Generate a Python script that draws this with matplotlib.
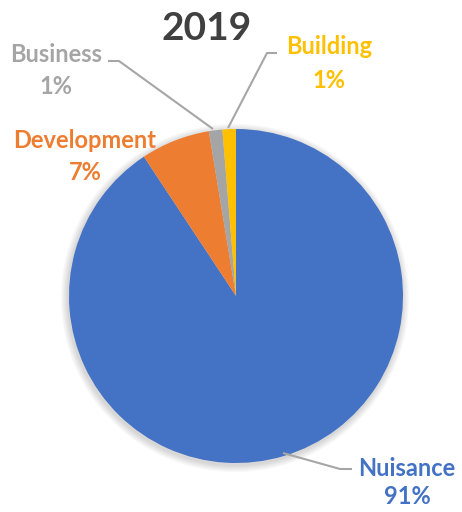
import matplotlib
matplotlib.use("Agg")
import matplotlib.pyplot as plt
from matplotlib.patches import Circle

title = "2019"
categories = ["Nuisance", "Development", "Business", "Building"]
values = [90.7, 6.7, 1.3, 1.3]
pct_labels = ["91%", "7%", "1%", "1%"]
colors = ["#4472C4", "#ED7D31", "#A5A5A5", "#FFC000"]

W, H = 462, 512
fig = plt.figure(figsize=(W / 100, H / 100), dpi=100)
ax = fig.add_axes([0, 0, 1, 1])
ax.set_xlim(0, W)
ax.set_ylim(0, H)
ax.set_aspect("equal")
ax.axis("off")

def Y(y):
    return H - y

cx, cy, r = 236, Y(296), 167

# soft shadow
for i in range(8):
    ax.add_patch(Circle((cx - 1, cy - 2), r + 1 + i * 0.9, color="black",
                        alpha=0.018, lw=0, zorder=1))

ax.pie(values, colors=colors, startangle=90, counterclock=False,
       center=(cx, cy), radius=r, wedgeprops=dict(linewidth=0, zorder=2),
       frame=True)
ax.set_xlim(0, W)
ax.set_ylim(0, H)
ax.axis("off")

font = "Lato"
ax.text(207, Y(28), title, ha="center", va="center", fontsize=28,
        fontweight="bold", color="#404040", family=font)

label_pos = {
    "Nuisance": (407, 469, 497),
    "Development": (85, 141, 173),
    "Business": (56, 54, 86),
    "Building": (329, 47, 80),
}
for cat, pct, col in zip(categories, pct_labels, colors):
    x, y1, y2 = label_pos[cat]
    ax.text(x, Y(y1), cat, ha="center", va="center", fontsize=17,
            fontweight="bold", color=col, family=font)
    ax.text(x, Y(y2), pct, ha="center", va="center", fontsize=17,
            fontweight="bold", color=col, family=font)

leaders = [
    [(108, 61), (119, 61), (213, 129)],
    [(277, 53), (267, 53), (228, 128)],
    [(283, 453), (340, 469), (352, 469)],
]
for pts in leaders:
    xs = [p[0] for p in pts]
    ys = [Y(p[1]) for p in pts]
    ax.plot(xs, ys, color="#A6A6A6", lw=1.5, zorder=3, solid_capstyle="butt")

fig.savefig("out.png", dpi=100)
